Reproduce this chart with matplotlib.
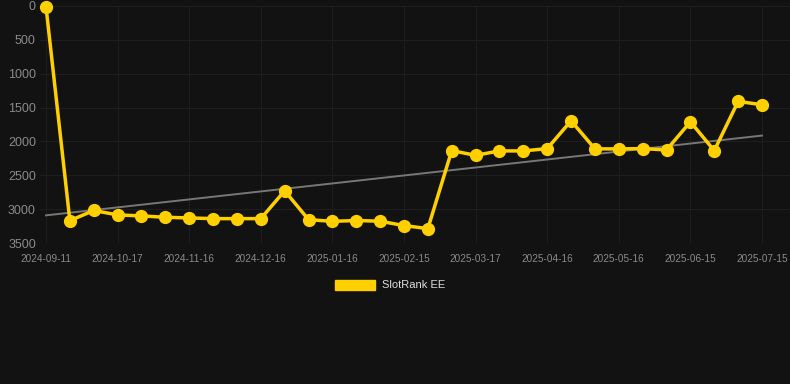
import numpy as np
import matplotlib
matplotlib.use("Agg")
import matplotlib.pyplot as plt
from matplotlib.patches import Patch

# -----------------------------------
# DATA
# -----------------------------------

tick_labels = [
    "2024-09-11", "2024-10-17", "2024-11-16", "2024-12-16",
    "2025-01-16", "2025-02-15", "2025-03-17", "2025-04-16",
    "2025-05-16", "2025-06-15", "2025-07-15"
]

rank = [
    10, 3170, 3020, 3085, 3100, 3120, 3130, 3140, 3140, 3140,
    2729, 3155, 3180, 3168, 3178, 3243, 3287, 2136, 2205, 2140,
    2140, 2106, 1695, 2110, 2110, 2106, 2126, 1710, 2136, 1409,
    1458
]

series_name = "SlotRank EE"

# -----------------------------------
# FIGURE
# -----------------------------------

bg = "#121212"
gold = "#FFD000"
plt.rcParams["font.family"] = ["Liberation Sans", "DejaVu Sans"]

fig = plt.figure(figsize=(7.9, 3.84), dpi=100, facecolor=bg)
ax = fig.add_axes([40 / 790, 1 - 243 / 384, 750 / 790, 237 / 384])
ax.set_facecolor(bg)

x = np.arange(len(rank))

# trend line (linear fit)
k, b = np.polyfit(x, rank, 1)
ax.plot(x, k * x + b, color="#777777", linewidth=1.4, zorder=2)

ax.plot(
    x, rank,
    color=gold,
    linewidth=2.5,
    marker="o",
    markersize=8.5,
    clip_on=False,
    zorder=3
)

ax.set_xlim(-6 / 23.87, 30 + 28 / 23.87)
ax.set_ylim(3500, 0)
ax.set_yticks(range(0, 3501, 500))
ax.set_xticks(x[::3])
ax.set_xticklabels(tick_labels)

ax.tick_params(axis="x", length=0, pad=8, labelsize=7.2, labelcolor="#8a8a8a")
ax.tick_params(axis="y", length=0, pad=3, labelsize=9, labelcolor="#8a8a8a")

ax.grid(True, color="#1e1e1e", linewidth=0.8)
ax.set_axisbelow(True)
for s in ax.spines.values():
    s.set_visible(False)

# -----------------------------------
# LEGEND
# -----------------------------------

handle = Patch(facecolor=gold, edgecolor=gold)
fig.legend(
    [handle], [series_name],
    loc="center",
    bbox_to_anchor=(390 / 790, 1 - 285 / 384),
    frameon=False,
    fontsize=8,
    labelcolor="#dddddd",
    handlelength=3.6,
    handleheight=1.0,
    handletextpad=0.6
)

plt.savefig("out.png", dpi=100, facecolor=bg)
